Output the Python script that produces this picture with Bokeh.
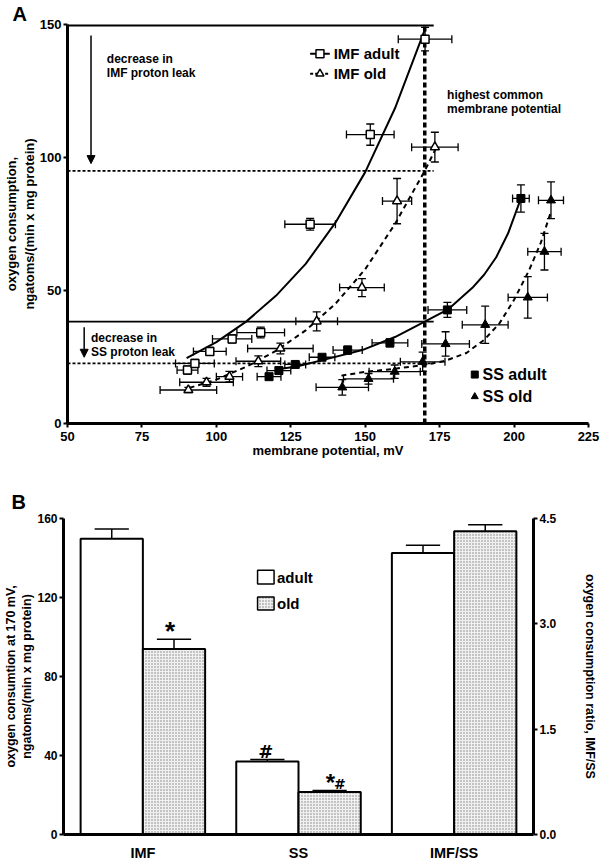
import math
from bokeh.plotting import figure
from bokeh.models import (Range1d, FixedTicker, Whisker, TeeHead, ColumnDataSource,
                          Arrow, NormalHead, Label, LinearAxis, PrintfTickFormatter)
from bokeh.embed import file_html
from bokeh.resources import INLINE

FONT = "Liberation Sans"

# ---------------- Panel A data ----------------
x_ticks_a = [50, 75, 100, 125, 150, 175, 200, 225]
y_ticks_a = [0, 50, 100, 150]

imf_adult_x = [90.3, 92.8, 97.8, 105.3, 114.9, 131.5, 151.7, 170.1]
imf_adult_y = [20.1, 22.6, 27.1, 31.8, 34.2, 74.9, 108.6, 144.5]
imf_adult_xerr = [3.5, 6.5, 5.5, 6.6, 8.0, 8.5, 8.0, 9.0]
imf_adult_yerr = [1.5, 1.5, 1.5, 1.5, 2.0, 2.2, 4.0, 4.4]

imf_old_x = [90.6, 96.7, 104.4, 114.1, 121.5, 133.7, 148.9, 160.7, 173.4]
imf_old_y = [12.6, 15.5, 17.6, 23.4, 28.2, 38.4, 51.1, 83.6, 103.9]
imf_old_xerr = [9.5, 9.0, 4.4, 7.5, 11.0, 7.0, 7.5, 4.9, 7.8]
imf_old_yerr = [1.0, 1.5, 2.0, 2.0, 2.0, 3.6, 3.4, 8.5, 5.6]

ss_adult_x = [117.7, 121.0, 126.5, 135.5, 144.1, 158.3, 177.6, 202.3]
ss_adult_y = [17.6, 19.9, 22.2, 24.9, 27.6, 30.3, 42.7, 84.6]
ss_adult_xerr = [4.0, 4.0, 3.5, 4.3, 4.9, 6.0, 6.5, 2.8]
ss_adult_yerr = [1.0, 1.0, 1.0, 1.0, 1.5, 1.5, 2.8, 5.1]

ss_old_x = [142.3, 151.1, 159.9, 169.3, 177.0, 190.3, 204.6, 210.2, 212.4]
ss_old_y = [13.6, 16.8, 19.5, 23.2, 29.9, 37.1, 47.4, 64.6, 83.9]
ss_old_xerr = [8.8, 8.4, 8.6, 7.5, 8.0, 7.7, 6.6, 5.6, 4.2]
ss_old_yerr = [2.9, 2.0, 2.5, 3.6, 4.6, 7.0, 7.8, 6.9, 6.9]

# fitted curves
imf_adult_fit_x = [90, 100, 110, 120, 130, 140, 150, 160, 170]
imf_adult_fit_y = [24.6, 30.6, 38.3, 48.0, 60.0, 75.5, 94.5, 118.5, 148.0]
imf_old_fit_x = [91, 100, 110, 120, 130, 140, 150, 160, 170, 174]
imf_old_fit_y = [13.4, 16.5, 21.3, 27.3, 35.0, 45.0, 58.0, 75.0, 95.0, 104.0]
ss_adult_fit_x = [120, 127, 137, 149, 160, 170, 178, 186, 190, 194, 198, 202.3]
ss_adult_fit_y = [20.3, 21.4, 24.2, 27.6, 32.5, 38.3, 43.0, 51.0, 56.0, 62.5, 71.5, 84.6]
ss_old_fit_x = [142, 150, 160, 170, 177, 184, 190, 195, 200, 205, 209, 212.5]
ss_old_fit_y = [18.0, 19.4, 20.6, 22.0, 23.6, 26.5, 31.5, 37.5, 46.5, 57.5, 68.0, 80.0]

common_potential = 170
rate_at_common = {"imf_adult": 150, "imf_old": 95, "ss_adult": 38.3, "ss_old": 22.6}

# ---------------- Panel B data ----------------
groups = ["IMF", "SS", "IMF/SS"]
adult_vals = [149.8, 36.9]
adult_errs = [4.9, 1.1]
old_vals = [93.9, 21.5]
old_errs = [5.0, 0.8]
ratio_adult = [4.01]
ratio_adult_err = [0.11]
ratio_old = [4.32]
ratio_old_err = [0.09]
y_ticks_b = [0, 40, 80, 120, 160]
y_ticks_ratio = [0, 1.5, 3.0, 4.5]


def style_axis(ax, lw=3, size="13px"):
    ax.axis_line_width = lw
    ax.axis_line_color = "black"
    ax.major_tick_line_width = 2
    ax.major_tick_out = 4
    ax.major_tick_in = 0
    ax.minor_tick_line_color = None
    ax.major_label_text_font = FONT
    ax.major_label_text_font_style = "bold"
    ax.major_label_text_font_size = size
    ax.major_label_text_color = "black"
    ax.major_label_standoff = 2
    ax.axis_label_text_font = FONT
    ax.axis_label_text_font_style = "bold"
    ax.axis_label_text_color = "black"


def lab(p, x, y, text, size="12px", align="left", baseline="middle", angle=0.0, font=FONT):
    p.add_layout(Label(x=x, y=y, text=text, text_font=font, text_font_style="bold",
                       text_font_size=size, text_align=align, text_baseline=baseline,
                       angle=angle, text_color="black"))


def style_title(p, text, offset, standoff):
    p.title.text = text
    p.title.align = "left"
    p.title.offset = offset
    p.title.standoff = standoff
    p.title.text_font = FONT
    p.title.text_font_style = "bold"
    p.title.text_font_size = "20px"
    p.title.text_color = "black"


# ================= Panel A =================
pA = figure(width=600, height=470, output_backend="svg", toolbar_location=None,
            x_range=Range1d(50, 225), y_range=Range1d(0, 150),
            min_border_left=59, min_border_right=12, min_border_top=24, min_border_bottom=47)
pA.outline_line_color = None
pA.xgrid.grid_line_color = None
pA.ygrid.grid_line_color = None
pA.xaxis.ticker = FixedTicker(ticks=x_ticks_a)
pA.yaxis.ticker = FixedTicker(ticks=y_ticks_a)
style_axis(pA.xaxis[0])
style_axis(pA.yaxis[0])
pA.xaxis.major_label_standoff = 4
pA.xaxis.axis_label = "membrane potential, mV"
pA.xaxis.axis_label_text_font_size = "13px"
pA.xaxis.axis_label_standoff = -1
pA.yaxis.axis_label = "oxygen consumption,\nngatoms/(min x mg protein)"
pA.yaxis.axis_label_text_font_size = "13px"
pA.yaxis.axis_label_standoff = 0
style_title(pA, "A", -55, 0)

# reference lines
x_end = common_potential + 3
pA.segment(x0=[50], y0=[rate_at_common["imf_adult"]], x1=[x_end], y1=[rate_at_common["imf_adult"]],
           line_color="black", line_width=4)
pA.segment(x0=[50], y0=[rate_at_common["ss_adult"]], x1=[x_end], y1=[rate_at_common["ss_adult"]],
           line_color="black", line_width=1.6)
pA.segment(x0=[50, 50], y0=[rate_at_common["imf_old"], rate_at_common["ss_old"]],
           x1=[x_end, x_end], y1=[rate_at_common["imf_old"], rate_at_common["ss_old"]],
           line_color="black", line_width=1.8, line_dash="3 2")
pA.segment(x0=[common_potential], y0=[0], x1=[common_potential], y1=[150],
           line_color="black", line_width=3.5, line_dash="5 3")

# fits
pA.line(imf_adult_fit_x, imf_adult_fit_y, line_color="black", line_width=2)
pA.line(imf_old_fit_x, imf_old_fit_y, line_color="black", line_width=2, line_dash="5 4")
pA.line(ss_adult_fit_x, ss_adult_fit_y, line_color="black", line_width=2)
pA.line(ss_old_fit_x, ss_old_fit_y, line_color="black", line_width=2, line_dash="5 4")


def errbars(p, xs, ys, xe, ye):
    src = ColumnDataSource(dict(x=xs, y=ys,
                                xl=[a - b for a, b in zip(xs, xe)], xu=[a + b for a, b in zip(xs, xe)],
                                yl=[a - b for a, b in zip(ys, ye)], yu=[a + b for a, b in zip(ys, ye)]))
    p.add_layout(Whisker(source=src, base="y", lower="xl", upper="xu", dimension="width",
                         line_color="black", line_width=1.3,
                         upper_head=TeeHead(size=8, line_width=1.3, line_color="black"),
                         lower_head=TeeHead(size=8, line_width=1.3, line_color="black")))
    p.add_layout(Whisker(source=src, base="x", lower="yl", upper="yu", dimension="height",
                         line_color="black", line_width=1.3,
                         upper_head=TeeHead(size=8, line_width=1.3, line_color="black"),
                         lower_head=TeeHead(size=8, line_width=1.3, line_color="black")))


errbars(pA, imf_adult_x, imf_adult_y, imf_adult_xerr, imf_adult_yerr)
errbars(pA, imf_old_x, imf_old_y, imf_old_xerr, imf_old_yerr)
errbars(pA, ss_adult_x, ss_adult_y, ss_adult_xerr, ss_adult_yerr)
errbars(pA, ss_old_x, ss_old_y, ss_old_xerr, ss_old_yerr)

pA.scatter(imf_adult_x, imf_adult_y, marker="square", size=8, fill_color="white",
           line_color="black", line_width=1.5)
pA.scatter(imf_old_x, imf_old_y, marker="triangle", size=9, fill_color="white",
           line_color="black", line_width=1.5)
pA.scatter(ss_adult_x, ss_adult_y, marker="square", size=8, fill_color="black", line_color="black")
pA.scatter(ss_old_x, ss_old_y, marker="triangle", size=9, fill_color="black", line_color="black")

# legends
pA.segment(x0=[131.5], y0=[139.0], x1=[138.1], y1=[139.0], line_color="black", line_width=2)
pA.segment(x0=[131.5], y0=[131.5], x1=[138.1], y1=[131.5], line_color="black", line_width=2,
           line_dash="3 2")
pA.scatter([134.8], [139.0], marker="square", size=8, fill_color="white", line_color="black", line_width=1.5)
pA.scatter([134.8], [131.5], marker="triangle", size=8, fill_color="white", line_color="black", line_width=1.5)
lab(pA, 139.4, 139.0, "IMF adult", size="15px")
lab(pA, 139.4, 131.5, "IMF old", size="15px")
pA.scatter([186.8], [18.4], marker="square", size=7, fill_color="black", line_color="black")
pA.scatter([186.8], [10.1], marker="triangle", size=7, fill_color="black", line_color="black")
lab(pA, 189.4, 18.4, "SS adult", size="16px")
lab(pA, 189.4, 10.1, "SS old", size="16px")

# arrows + annotations
pA.add_layout(Arrow(end=NormalHead(size=8, fill_color="black", line_color="black"),
                    x_start=57.9, y_start=145.9, x_end=57.9, y_end=97.7,
                    line_color="black", line_width=1.5))
pA.add_layout(Arrow(end=NormalHead(size=8, fill_color="black", line_color="black"),
                    x_start=55.6, y_start=36.2, x_end=55.6, y_end=24.9,
                    line_color="black", line_width=1.5))
lab(pA, 63.2, 137.1, "decrease in")
lab(pA, 63.2, 131.7, "IMF proton leak")
lab(pA, 57.9, 32.1, "decrease in")
lab(pA, 57.9, 27.0, "SS proton leak")
lab(pA, 177.5, 123.6, "highest common")
lab(pA, 177.5, 118.4, "membrane potential")

# ================= Panel B =================
pB = figure(width=600, height=393, output_backend="svg", toolbar_location=None,
            x_range=Range1d(0.49, 3.51), y_range=Range1d(0, 160),
            min_border_left=57, min_border_right=61, min_border_top=48, min_border_bottom=27)
pB.outline_line_color = None
pB.xgrid.grid_line_color = None
pB.ygrid.grid_line_color = None
pB.extra_y_ranges = {"ratio": Range1d(0, 4.5)}
pB.yaxis.ticker = FixedTicker(ticks=y_ticks_b)
pB.xaxis.ticker = FixedTicker(ticks=[1, 2, 3])
pB.xaxis.major_label_overrides = {i + 1: g for i, g in enumerate(groups)}
style_axis(pB.yaxis[0], size="12px")
style_axis(pB.xaxis[0], size="14.5px")
pB.xaxis.major_tick_out = 0
pB.xaxis.major_label_standoff = 10
pB.yaxis.axis_label = "oxygen consumtion at 170 mV,\nngatoms/(min x mg protein)"
pB.yaxis.axis_label_text_font_size = "12.5px"
pB.yaxis.axis_label_standoff = 0
right_ax = LinearAxis(y_range_name="ratio", ticker=FixedTicker(ticks=y_ticks_ratio),
                      formatter=PrintfTickFormatter(format="%.1f"))
style_axis(right_ax, size="12px")
right_ax.axis_label = "oxygen consumption ratio, IMF/SS"
right_ax.axis_label_text_font_size = "12.5px"
right_ax.axis_label_standoff = 24
pB.add_layout(right_ax, "right")
style_title(pB, "B", -52, 12)

bw = 0.4
cap = 0.11
old_style = dict(fill_color="#f0f0f0", hatch_pattern="dot", hatch_color="#808080",
                 hatch_scale=3, hatch_weight=1, line_color="black", line_width=2)

xa = [i + 1 - bw / 2 for i in range(len(adult_vals))]
xo = [i + 1 + bw / 2 for i in range(len(old_vals))]
ta = [v + e for v, e in zip(adult_vals, adult_errs)]
to = [v + e for v, e in zip(old_vals, old_errs)]
pB.segment(x0=xa, y0=adult_vals, x1=xa, y1=ta, line_color="black", line_width=1.5)
pB.segment(x0=[x - cap for x in xa], y0=ta, x1=[x + cap for x in xa], y1=ta, line_color="black", line_width=1.5)
pB.segment(x0=xo, y0=old_vals, x1=xo, y1=to, line_color="black", line_width=1.5)
pB.segment(x0=[x - cap for x in xo], y0=to, x1=[x + cap for x in xo], y1=to, line_color="black", line_width=1.5)
pB.vbar(x=xa, top=adult_vals, width=bw, fill_color="white", line_color="black", line_width=2)
pB.vbar(x=xo, top=old_vals, width=bw, **old_style)

xr_a = [3 - bw / 2]
xr_o = [3 + bw / 2]
tra = [v + e for v, e in zip(ratio_adult, ratio_adult_err)]
tro = [v + e for v, e in zip(ratio_old, ratio_old_err)]
for xs, vals, tops in ((xr_a, ratio_adult, tra), (xr_o, ratio_old, tro)):
    pB.segment(x0=xs, y0=vals, x1=xs, y1=tops, line_color="black", line_width=1.5, y_range_name="ratio")
    pB.segment(x0=[x - cap for x in xs], y0=tops, x1=[x + cap for x in xs], y1=tops,
               line_color="black", line_width=1.5, y_range_name="ratio")
pB.vbar(x=xr_a, top=ratio_adult, width=bw, fill_color="white", line_color="black", line_width=2,
        y_range_name="ratio")
pB.vbar(x=xr_o, top=ratio_old, width=bw, y_range_name="ratio", **old_style)

# legend
pB.quad(left=[1.737], right=[1.843], bottom=[126.8], top=[133.8], fill_color="white",
        line_color="black", line_width=1.5)
pB.quad(left=[1.737], right=[1.843], bottom=[113.7], top=[120.3], line_width=1.5,
        fill_color="#f0f0f0", hatch_pattern="dot", hatch_color="#808080", hatch_scale=3,
        hatch_weight=1, line_color="black")
lab(pB, 1.862, 130.3, "adult", size="15px")
lab(pB, 1.862, 117.0, "old", size="15px")

# significance marks
lab(pB, 1.175, 103.0, "*", size="26px", align="center", baseline="alphabetic")
lab(pB, 1.79, 41.8, "#", size="18px", align="center", baseline="alphabetic", font="DejaVu Sans")
lab(pB, 2.205, 26.5, "*", size="24px", align="center", baseline="alphabetic")
lab(pB, 2.265, 25.6, "#", size="14px", align="center", baseline="alphabetic", font="DejaVu Sans")

open("out.html", "w").write(file_html([pA, pB], INLINE))
